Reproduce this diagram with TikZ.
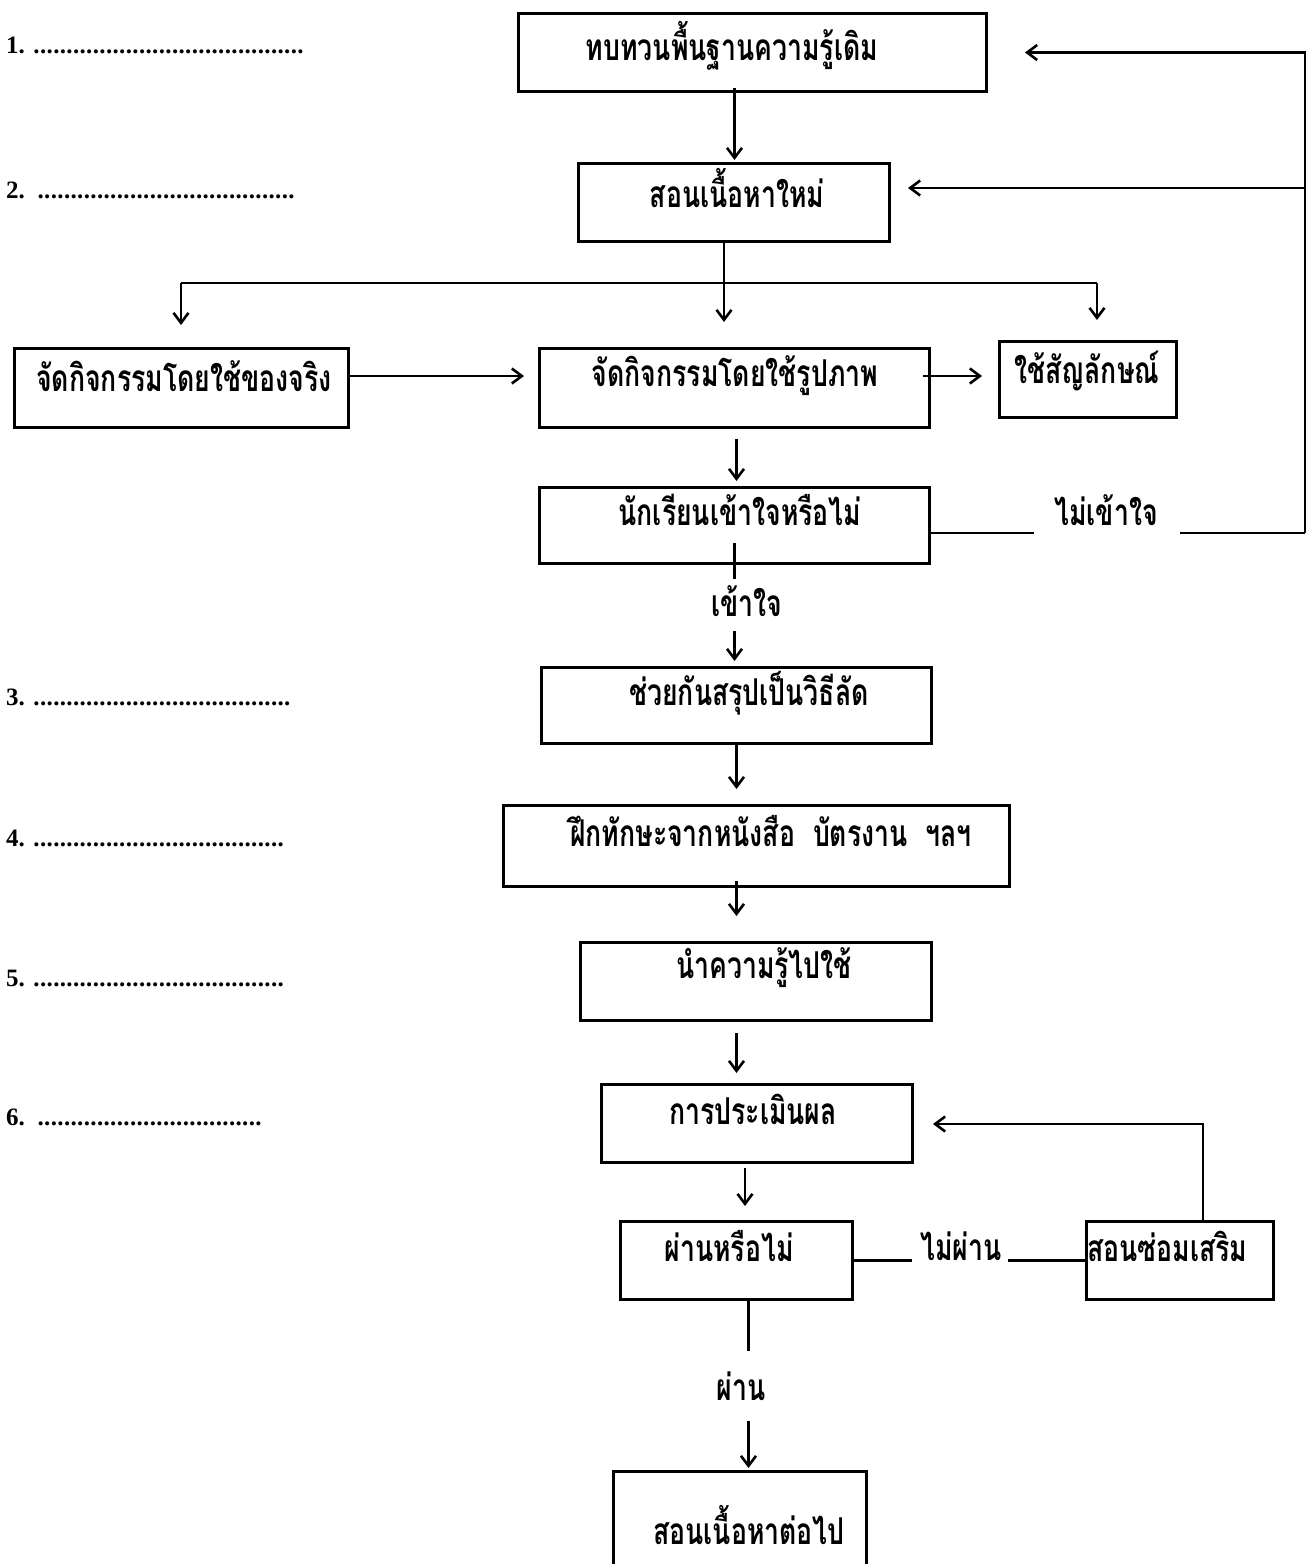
\documentclass[tikz,border=0pt]{standalone}
\usepackage{fontspec}
\setmainfont{Liberation Serif}
\newfontfamily\thaifont[Script=Thai,FakeStretch=0.72]{Loma}
\usetikzlibrary{arrows.meta,calc}
\newcommand\dotrow[1]{\makebox[#1][l]{\leaders\hbox to 6.6pt{\hss.\hss}\hfill}}
\begin{document}
\begin{tikzpicture}[x=1pt,y=-1pt,
  box/.style={draw,line width=3pt,anchor=north west,inner sep=0pt},
  th/.style={font=\thaifont\bfseries\fontsize{37}{40}\selectfont,inner sep=0pt},
  num/.style={font=\bfseries\fontsize{25}{28}\selectfont,anchor=west,inner sep=0pt},
  conn/.style={line width=2.6pt},
  arr/.style={conn,-{Straight Barb[length=10pt,width=15pt,line width=2.6pt]}},
]
\clip (0,0) rectangle (1307,1564);
\fill[white] (0,0) rectangle (1307,1564);

% numbered labels
\node[num] (n1) at (6,45) {1. \dotrow{275pt}};
\node[num] (n2) at (6,190) {2.\ \ \dotrow{262pt}};
\node[num] (n3) at (6,697) {3. \dotrow{258pt}};
\node[num] (n4) at (6,838) {4. \dotrow{253pt}};
\node[num] (n5) at (6,978) {5. \dotrow{253pt}};
\node[num] (n6) at (6,1117) {6.\ \ \dotrow{226pt}};

% boxes
\node[box,minimum width=468,minimum height=78] (b1) at (517,12) {};
\node[box,minimum width=311,minimum height=78] (b2) at (577,162) {};
\node[box,minimum width=334,minimum height=79] (b3) at (13,347) {};
\node[box,minimum width=390,minimum height=79] (b4) at (538,347) {};
\node[box,minimum width=177,minimum height=76] (b5) at (998,340) {};
\node[box,minimum width=390,minimum height=76] (b6) at (538,486) {};
\node[box,minimum width=390,minimum height=76] (b7) at (540,666) {};
\node[box,minimum width=506,minimum height=81] (b8) at (502,804) {};
\node[box,minimum width=351,minimum height=78] (b9) at (579,941) {};
\node[box,minimum width=311,minimum height=78] (b10) at (600,1083) {};
\node[box,minimum width=232,minimum height=78] (b11) at (619,1220) {};
\node[box,minimum width=187,minimum height=78] (b12) at (1085,1220) {};
\node[box,minimum width=253,minimum height=130] (b13) at (612,1470) {};

% box texts
\node[th] (t1) at (732,46) {ทบทวนพื้นฐานความรู้เดิม};
\node[th] (t2) at (737,188) {สอนเนื้อหาใหม่};
\node[th] (t3) at (184,376) {จัดกิจกรรมโดยใช้ของจริง};
\node[th] (t4) at (735,376) {จัดกิจกรรมโดยใช้รูปภาพ};
\node[th] (t5) at (1087,371) {ใช้สัญลักษณ์};
\node[th] (t6) at (740,510) {นักเรียนเข้าใจหรือไม่};
\node[th] (t7) at (749,693) {ช่วยกันสรุปเป็นวิธีลัด};
\node[th] (t8) at (771,831) {ฝึกทักษะจากหนังสือ\ \ บัตรงาน\ \ ฯลฯ};
\node[th] (t9) at (764,968) {นำความรู้ไปใช้};
\node[th] (t10) at (753,1109) {การประเมินผล};
\node[th] (t11) at (729,1246) {ผ่านหรือไม่};
\node[th,anchor=west] (t12) at (1087,1246) {สอนซ่อมเสริม};
\node[th] (t13) at (749,1525) {สอนเนื้อหาต่อไป};

% connector labels
\node[th] (nu) at (1106,510) {ไม่เข้าใจ};
\node[th] (u) at (747,601) {เข้าใจ};
\node[th] (np) at (961,1246) {ไม่ผ่าน};
\node[th] (p) at (741,1386) {ผ่าน};

% helper coordinates
\coordinate (hl) at (181,283);
\coordinate (hm) at (724,283);
\coordinate (hr) at (1097,283);
\coordinate (fr) at (1305,533);
\coordinate (rr) at (1203,1124);

% connectors
\draw[arr] ($(b1.south)+(-18,-5)$) -- ($(b1.south |- b2.north)+(-18,-2)$);
\draw[conn] (b2.south -| hm) -- (hm);
\draw[conn] (hl) -- (hr);
\draw[arr] (hl) -- ($(hl |- b3.north)+(0,-22)$);
\draw[arr] (hm) -- ($(hm |- b4.north)+(0,-25)$);
\draw[arr] (hr) -- ($(hr |- b5.north)+(0,-20)$);
\draw[arr] (b3.east |- t3) -- ($(b4.west |- t3)+(-14,0)$);
\draw[arr] ($(b4.east |- t4)+(-8,0)$) -- ($(b5.west |- t4)+(-16,0)$);
\draw[arr] ($(b4.south)+(2,10)$) -- ($(b6.north)+(2,-5)$);

% not understood loop
\draw[conn] (b6.east |- fr) -- ($(nu.west |- fr)+(-20,0)$);
\draw[conn] ($(nu.east |- fr)+(22,0)$) -- (fr);
\draw[arr] (fr) -- (fr |- b1.east) -- ($(b1.east)+(37,0)$);
\draw[arr] (fr |- t2) -- ($(b2.east |- t2)+(17,0)$);

% understood
\draw[conn] ($(b6.south)+(0,-22)$) -- ($(b6.south |- u.north)+(0,-6)$);
\draw[arr] ($(b6.south |- u.south)+(0,14)$) -- ($(b6.south |- b7.north)+(0,-5)$);

\draw[arr] ($(b7.south)+(0,0)$) -- ($(b7.south |- b8.north)+(0,-15)$);
\draw[arr] ($(b7.south |- b8.south)+(0,-7)$) -- ($(b7.south |- b9.north)+(0,-25)$);
\draw[arr] ($(b7.south |- b9.south)+(0,11)$) -- ($(b7.south |- b10.north)+(0,-10)$);
\draw[arr] ($(b10.south)+(-12,4)$) -- ($(b10.south |- b11.north)+(-12,-14)$);

% not passed loop
\draw[conn] (b11.east) -- ($(np.west |- b11.east)+(-8,0)$);
\draw[conn] ($(np.east |- b11.east)+(6,0)$) -- (b12.west);
\draw[arr] (rr |- b12.north) -- (rr) -- ($(b10.east |- rr)+(19,0)$);

% passed
\draw[conn] ($(b11.south)+(12,0)$) -- ($(b11.south |- p.north)+(12,-20)$);
\draw[arr] ($(b11.south |- p.south)+(12,20)$) -- ($(b11.south |- b13.north)+(12,-2)$);
\end{tikzpicture}
\end{document}
